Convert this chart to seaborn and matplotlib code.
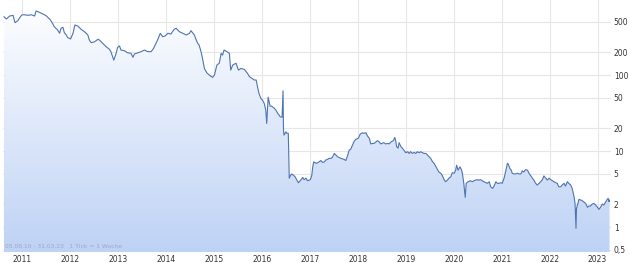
import numpy as np
import pandas as pd
import matplotlib
matplotlib.use("Agg")
import matplotlib.pyplot as plt
import seaborn as sns

# decimal years and price values
years = [
    2010.62, 2010.67, 2010.74, 2010.81, 2010.85, 2010.91, 2010.94, 2010.99, 2011.04, 2011.12,
    2011.19, 2011.26, 2011.29, 2011.36, 2011.43, 2011.50, 2011.59, 2011.64, 2011.67, 2011.74,
    2011.78, 2011.81, 2011.85, 2011.88, 2011.92, 2011.95, 2012.01, 2012.06, 2012.10, 2012.16,
    2012.23, 2012.30, 2012.37, 2012.40, 2012.44, 2012.51, 2012.58, 2012.61, 2012.68, 2012.75,
    2012.82, 2012.85, 2012.91, 2012.96, 2012.99, 2013.03, 2013.06, 2013.13, 2013.20, 2013.27,
    2013.31, 2013.34, 2013.41, 2013.48, 2013.55, 2013.62, 2013.69, 2013.74, 2013.79, 2013.83,
    2013.88, 2013.93, 2013.98, 2014.04, 2014.10, 2014.17, 2014.21, 2014.28, 2014.35, 2014.42,
    2014.49, 2014.52, 2014.59, 2014.63, 2014.66, 2014.69, 2014.73, 2014.76, 2014.80, 2014.85,
    2014.90, 2014.97, 2015.01, 2015.06, 2015.11, 2015.15, 2015.18, 2015.21, 2015.27, 2015.32,
    2015.35, 2015.39, 2015.46, 2015.51, 2015.56, 2015.63, 2015.70, 2015.74, 2015.84, 2015.88,
    2015.91, 2015.94, 2015.98, 2016.01, 2016.05, 2016.08, 2016.10, 2016.13, 2016.17, 2016.20,
    2016.26, 2016.29, 2016.33, 2016.38, 2016.42, 2016.44, 2016.45, 2016.46, 2016.50, 2016.52,
    2016.55, 2016.57, 2016.59, 2016.62, 2016.66, 2016.69, 2016.73, 2016.76, 2016.81, 2016.85,
    2016.88, 2016.92, 2016.95, 2017.01, 2017.04, 2017.06, 2017.08, 2017.13, 2017.16, 2017.19,
    2017.23, 2017.26, 2017.30, 2017.33, 2017.37, 2017.40, 2017.44, 2017.47, 2017.51, 2017.54,
    2017.58, 2017.65, 2017.71, 2017.75, 2017.79, 2017.82, 2017.85, 2017.89, 2017.92, 2017.96,
    2018.01, 2018.05, 2018.10, 2018.13, 2018.17, 2018.20, 2018.24, 2018.27, 2018.31, 2018.34,
    2018.41, 2018.44, 2018.48, 2018.54, 2018.58, 2018.62, 2018.65, 2018.70, 2018.74, 2018.77,
    2018.79, 2018.81, 2018.84, 2018.86, 2018.90, 2018.93, 2018.96, 2019.00, 2019.04, 2019.07,
    2019.10, 2019.14, 2019.17, 2019.21, 2019.24, 2019.28, 2019.31, 2019.35, 2019.38, 2019.42,
    2019.45, 2019.49, 2019.52, 2019.56, 2019.59, 2019.63, 2019.66, 2019.69, 2019.73, 2019.76,
    2019.80, 2019.83, 2019.87, 2019.90, 2019.94, 2019.97, 2020.01, 2020.04, 2020.06, 2020.09,
    2020.11, 2020.13, 2020.16, 2020.18, 2020.21, 2020.24, 2020.26, 2020.30, 2020.34, 2020.39,
    2020.42, 2020.48, 2020.53, 2020.56, 2020.63, 2020.70, 2020.74, 2020.77, 2020.81, 2020.84,
    2020.88, 2020.91, 2020.94, 2020.98, 2021.01, 2021.05, 2021.08, 2021.12, 2021.14, 2021.17,
    2021.20, 2021.22, 2021.26, 2021.29, 2021.33, 2021.36, 2021.40, 2021.43, 2021.46, 2021.50,
    2021.54, 2021.57, 2021.60, 2021.64, 2021.67, 2021.71, 2021.74, 2021.78, 2021.81, 2021.85,
    2021.88, 2021.92, 2021.95, 2021.99, 2022.02, 2022.06, 2022.09, 2022.13, 2022.16, 2022.19,
    2022.23, 2022.26, 2022.30, 2022.33, 2022.37, 2022.40, 2022.44, 2022.47, 2022.51, 2022.53,
    2022.55, 2022.56, 2022.59, 2022.61, 2022.65, 2022.68, 2022.71, 2022.75, 2022.79, 2022.82,
    2022.85, 2022.89, 2022.92, 2022.96, 2022.99, 2023.03, 2023.06, 2023.10, 2023.13, 2023.17,
    2023.20, 2023.22, 2023.24, 2023.25,
]
prices = [
    585, 546, 597, 610, 488, 518, 557, 616, 621, 610,
    621, 597, 695, 668, 635, 603, 529, 469, 432, 391,
    354, 412, 424, 360, 336, 310, 298, 354, 455, 441,
    399, 371, 336, 289, 266, 274, 295, 289, 261, 236,
    218, 203, 157, 193, 231, 241, 213, 209, 196, 193,
    171, 189, 196, 203, 213, 203, 203, 224, 261, 295,
    354, 319, 326, 354, 346, 399, 412, 371, 354, 336,
    354, 383, 336, 289, 261, 248, 203, 166, 122, 107,
    100, 93, 100, 135, 143, 193, 183, 213, 203, 193,
    116, 135, 143, 116, 122, 119, 105, 95, 86, 86,
    69, 57, 49, 47, 42, 34.6, 23.1, 51, 39, 39,
    36.5, 34.6, 31.3, 28.3, 27.8, 62, 19, 16.2, 17.9, 17.1,
    17.1, 4.4, 4.7, 5.0, 4.8, 4.6, 4.15, 3.83, 4.15, 4.5,
    4.2, 4.4, 4.07, 4.2, 4.8, 6.2, 7.2, 6.9, 7.0, 7.2,
    7.5, 7.1, 7.2, 7.6, 7.8, 8.0, 8.0, 8.3, 9.3, 8.9,
    8.4, 8.0, 7.8, 7.5, 8.9, 10.3, 10.5, 12.0, 13.3, 14.3,
    14.7, 16.7, 17.4, 17.1, 17.4, 15.8, 14.7, 12.4, 12.6, 12.6,
    13.7, 13.3, 12.4, 12.9, 12.4, 12.6, 12.4, 13.3, 13.7, 15.1,
    13.7, 11.4, 10.9, 12.9, 11.4, 10.9, 10.3, 9.5, 9.8, 9.3,
    9.8, 9.3, 9.6, 9.3, 9.8, 9.5, 9.8, 9.5, 9.3, 9.3,
    8.9, 8.4, 8.0, 7.2, 6.9, 6.2, 5.7, 5.3, 5.1, 4.8,
    4.2, 3.95, 4.15, 4.4, 4.6, 5.2, 5.1, 5.6, 6.5, 5.6,
    5.9, 6.2, 5.7, 5.1, 3.76, 2.46, 3.76, 3.95, 4.07, 3.95,
    4.07, 4.2, 4.15, 4.2, 3.95, 3.76, 3.95, 3.39, 3.23, 3.46,
    3.95, 3.76, 3.76, 3.83, 3.76, 4.4, 5.3, 6.9, 6.7, 5.9,
    5.6, 5.1, 5.0, 5.0, 5.1, 5.0, 5.0, 5.5, 5.3, 5.7,
    5.6, 5.1, 4.8, 4.4, 4.15, 3.76, 3.57, 3.76, 3.95, 4.2,
    4.7, 4.4, 4.15, 4.4, 4.2, 4.07, 3.95, 3.83, 3.76, 3.39,
    3.39, 3.57, 3.76, 3.46, 3.95, 3.76, 3.57, 3.23, 2.5, 2.05,
    0.96, 1.76, 2.05, 2.31, 2.27, 2.22, 2.15, 2.05, 1.82, 1.89,
    1.89, 2.01, 2.05, 1.95, 1.85, 1.71, 1.82, 2.01, 1.95, 2.15,
    2.31, 2.39, 2.15, 2.27,
]
ytick_values = [0.5, 1, 2, 5, 10, 20, 50, 100, 200, 500]
ytick_labels = ["0,5", "1", "2", "5", "10", "20", "50", "100", "200", "500"]
xtick_years = list(range(2011, 2024))
info_text = "05.08.10 - 31.03.23   1 Tick = 1 Woche"

df = pd.DataFrame({"year": years, "price": prices})

sns.set_style("white")
plt.rcParams["font.family"] = ["DejaVu Sans"]

fig = plt.figure(figsize=(6.29, 2.63), dpi=100)
ax = fig.add_axes([3 / 629, 11 / 263, 608 / 629, 252 / 263])

ymin, ymax = 0.47, 970
xmin, xmax = 2010.60, 2023.28
ax.set_yscale("log")
ax.set_xlim(xmin, xmax)
ax.set_ylim(ymin, ymax)

# gradient fill under the curve
poly = ax.fill_between(df["year"], df["price"], ymin, color="none", lw=0)
top_c = np.array([1.0, 1.0, 1.0])
bot_c = np.array([190, 210, 245]) / 255.0
t = np.linspace(0, 1, 256)[:, None]
grad = (top_c * (1 - t) + bot_c * t)[:, None, :]
grad = np.repeat(grad, 2, axis=1)
im = ax.imshow(grad, extent=[0, 1, 0, 1], aspect="auto", origin="upper",
               zorder=1, transform=ax.transAxes)
path = poly.get_paths()[0]
im.set_clip_path(path, transform=ax.transData)
ax.set_xlim(xmin, xmax)
ax.set_ylim(ymin, ymax)

sns.lineplot(data=df, x="year", y="price", ax=ax, color="#4f74b3",
             linewidth=0.8, zorder=3)

ax.set_yticks(ytick_values)
ax.set_yticklabels(ytick_labels)
ax.yaxis.set_minor_locator(matplotlib.ticker.NullLocator())
ax.yaxis.tick_right()
ax.set_xticks(xtick_years)
ax.set_xticklabels([str(y) for y in xtick_years])
ax.tick_params(axis="both", length=0, labelsize=5.5, colors="#333333")
ax.tick_params(axis="y", pad=2)
ax.tick_params(axis="x", pad=2)
ax.set_xlabel("")
ax.set_ylabel("")
ax.grid(True, color="#e6e6e6", linewidth=0.8, zorder=0)
ax.set_axisbelow(True)
for s in ax.spines.values():
    s.set_visible(False)

ax.text(0.004, 0.012, info_text, transform=ax.transAxes, fontsize=4.3,
        color="#9ea9bb", ha="left", va="bottom", zorder=4)

fig.savefig("out.png", dpi=100)
